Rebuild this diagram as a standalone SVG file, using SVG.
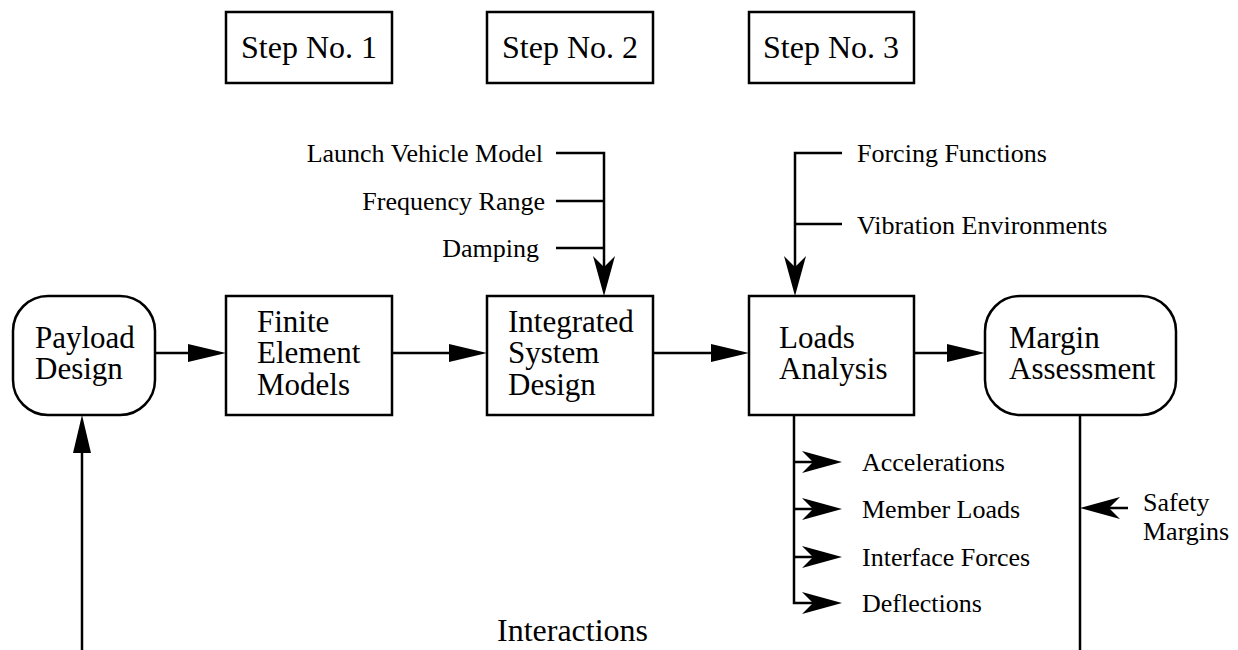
<svg xmlns="http://www.w3.org/2000/svg" width="1238" height="650" viewBox="0 0 1238 650">
<style>
.box{fill:#fff;stroke:#000;stroke-width:2.5}
.ln{fill:none;stroke:#000;stroke-width:2.5}
.t{font-family:"Liberation Serif","Times New Roman",serif;fill:#000}
.n{font-size:31px}
.s{font-size:32px}
.l{font-size:26px}
</style>
<defs>
<marker id="tri" markerUnits="userSpaceOnUse" viewBox="0 0 38 18" refX="30" refY="9" markerWidth="38" markerHeight="18" orient="auto">
<path d="M0,0 L38,9 L0,18 Z" fill="#000"/>
</marker>
<marker id="stealth" markerUnits="userSpaceOnUse" viewBox="0 0 40 22" refX="32" refY="11" markerWidth="40" markerHeight="22" orient="auto">
<path d="M0,0 L40,11 L0,22 L11,11 Z" fill="#000"/>
</marker>
</defs>

<g id="step1"><rect class="box" x="226" y="12" width="166" height="71"/><text class="t s" x="309" y="58" text-anchor="middle">Step No. 1</text></g>
<g id="step2"><rect class="box" x="487" y="12" width="166" height="71"/><text class="t s" x="570" y="58" text-anchor="middle">Step No. 2</text></g>
<g id="step3"><rect class="box" x="749" y="12" width="165" height="71"/><text class="t s" x="831" y="58" text-anchor="middle">Step No. 3</text></g>

<g id="connectors">
<path class="ln" d="M155,353 H218" marker-end="url(#tri)"/>
<path class="ln" d="M392,353 H479" marker-end="url(#tri)"/>
<path class="ln" d="M653,353 H741" marker-end="url(#tri)"/>
<path class="ln" d="M914,353 H977" marker-end="url(#tri)"/>
<path class="ln" d="M556,153 H604 V288" marker-end="url(#stealth)"/>
<path class="ln" d="M556,201 H604"/>
<path class="ln" d="M556,248 H604"/>
<path class="ln" d="M842,153 H795 V288" marker-end="url(#stealth)"/>
<path class="ln" d="M842,224 H795"/>
<path class="ln" d="M794,415 V603 H834" marker-end="url(#stealth)"/>
<path class="ln" d="M794,462 H834" marker-end="url(#stealth)"/>
<path class="ln" d="M794,509 H834" marker-end="url(#stealth)"/>
<path class="ln" d="M794,557 H834" marker-end="url(#stealth)"/>
<path class="ln" d="M1080,415 V650"/>
<path class="ln" d="M1128,508 H1088" marker-end="url(#stealth)"/>
<path class="ln" d="M82,650 V423" marker-end="url(#tri)"/>
</g>

<g id="payload"><rect class="box" x="13" y="296" width="142" height="119" rx="35"/><text class="t n" x="35" y="348">Payload</text><text class="t n" x="35" y="379">Design</text></g>
<g id="finite"><rect class="box" x="226" y="296" width="166" height="119"/><text class="t n" x="257" y="332">Finite</text><text class="t n" x="257" y="363">Element</text><text class="t n" x="257" y="395">Models</text></g>
<g id="integrated"><rect class="box" x="487" y="296" width="166" height="119"/><text class="t n" x="508" y="332">Integrated</text><text class="t n" x="508" y="363">System</text><text class="t n" x="508" y="395">Design</text></g>
<g id="loads"><rect class="box" x="749" y="296" width="165" height="119"/><text class="t n" x="779" y="348">Loads</text><text class="t n" x="779" y="379">Analysis</text></g>
<g id="margin"><rect class="box" x="985" y="296" width="191" height="119" rx="35"/><text class="t n" x="1009" y="348">Margin</text><text class="t n" x="1009" y="379">Assessment</text></g>

<g id="labels">
<text class="t l" x="543" y="162" text-anchor="end">Launch Vehicle Model</text>
<text class="t l" x="545" y="210" text-anchor="end">Frequency Range</text>
<text class="t l" x="539" y="257" text-anchor="end">Damping</text>
<text class="t l" x="857" y="162">Forcing Functions</text>
<text class="t l" x="857" y="234">Vibration Environments</text>
<text class="t l" x="862" y="471">Accelerations</text>
<text class="t l" x="862" y="518">Member Loads</text>
<text class="t l" x="862" y="566">Interface Forces</text>
<text class="t l" x="862" y="612">Deflections</text>
<text class="t l" x="1143" y="511">Safety</text>
<text class="t l" x="1143" y="540">Margins</text>
<text class="t" font-size="32" x="497" y="641">Interactions</text>
</g>
</svg>
